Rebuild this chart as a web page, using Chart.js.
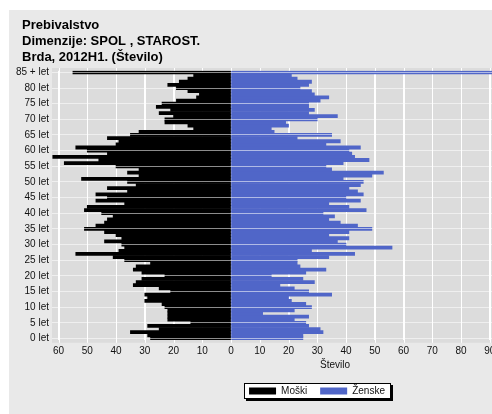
<!DOCTYPE html>
<html>
<head>
<meta charset="utf-8">
<script src="https://cdn.jsdelivr.net/npm/chart.js@4/dist/chart.umd.min.js"></script>
<style>
html,body{margin:0;padding:0;background:#ffffff;overflow:hidden;width:492px;height:414px;}
#wrap{position:absolute;left:9px;top:10px;width:614px;height:404px;}
canvas{display:block;}
</style>
</head>
<body>
<div id="wrap"><canvas id="c" width="614" height="404"></canvas></div>
<script>
// ---- data (index 0 = "0 let" ... index 85 = "85 + let") ----
const categories = ['0 let','1 let','2 let','3 let','4 let','5 let','6 let','7 let','8 let','9 let',
  '10 let','11 let','12 let','13 let','14 let','15 let','16 let','17 let','18 let','19 let',
  '20 let','21 let','22 let','23 let','24 let','25 let','26 let','27 let','28 let','29 let',
  '30 let','31 let','32 let','33 let','34 let','35 let','36 let','37 let','38 let','39 let',
  '40 let','41 let','42 let','43 let','44 let','45 let','46 let','47 let','48 let','49 let',
  '50 let','51 let','52 let','53 let','54 let','55 let','56 let','57 let','58 let','59 let',
  '60 let','61 let','62 let','63 let','64 let','65 let','66 let','67 let','68 let','69 let',
  '70 let','71 let','72 let','73 let','74 let','75 let','76 let','77 let','78 let','79 let',
  '80 let','81 let','82 let','83 let','84 let','85 + let'];

const male = [28,29,35,25,29,14,22,22,22,22,
  23,24,30,29,30,21,25,34,33,31,
  23,31,34,33,28,37,41,54,39,37,
  38,44,38,40,44,51,47,44,43,41,
  45,51,50,37,47,43,47,36,43,33,
  36,52,32,36,32,40,58,46,62,43,
  50,54,40,39,43,35,32,13,15,23,
  23,20,25,21,26,24,19,12,11,15,
  19,22,18,15,13,55];

const female = [25,25,32,31,27,26,22,27,11,22,
  28,26,21,20,35,27,22,17,29,25,
  14,26,33,24,23,23,34,43,28,56,
  40,37,41,34,41,49,44,38,34,36,
  32,47,41,34,45,40,46,44,41,45,
  46,39,49,53,35,33,39,48,43,42,
  41,45,33,38,23,35,15,14,20,19,
  30,37,27,29,27,27,31,34,29,28,
  24,27,28,23,21,110];

const seriesNames = ['Moški', 'Ženske'];
const xTickValues = [-60,-50,-40,-30,-20,-10,0,10,20,30,40,50,60,70,80,90,100,110,120,130];
const titleLines = ['Prebivalstvo', 'Dimenzije: SPOL , STAROST.', 'Brda, 2012H1. (Število)'];
const axisTitle = 'Število';

Chart.defaults.font.family = "'Liberation Sans', Arial, sans-serif";
Chart.defaults.color = '#000';

const bgPlugin = {
  id: 'bgPlugin',
  afterLayout(chart) {
    if (chart.titleBlock) { chart.titleBlock.left += 6; chart.titleBlock.right += 6; }
  },
  beforeDraw(chart) {
    const ctx = chart.ctx, a = chart.chartArea, x = chart.scales.x;
    ctx.save();
    ctx.fillStyle = '#e9e9e9';
    ctx.fillRect(0, 0, chart.width, chart.height);
    const ext = 2.8;
    ctx.fillStyle = '#dcdcdc';
    ctx.fillRect(a.left, a.top - ext, a.right - a.left, a.bottom - a.top + 2 * ext);
    ctx.strokeStyle = '#ffffff';
    ctx.lineWidth = 1;
    x.ticks.forEach(t => {
      const px = Math.round(x.getPixelForValue(t.value)) + 0.5;
      ctx.beginPath(); ctx.moveTo(px, a.top - ext); ctx.lineTo(px, a.bottom + ext); ctx.stroke();
    });
    const lg = chart.legend;
    if (lg && lg.legendHitBoxes && lg.legendHitBoxes.length) {
      const hb = lg.legendHitBoxes;
      const l = Math.min(...hb.map(h => h.left));
      const r = Math.max(...hb.map(h => h.left + h.width));
      const t = Math.min(...hb.map(h => h.top));
      const b = Math.max(...hb.map(h => h.top + h.height));
      const bx = Math.round(l - 5), by = Math.round(t - 3), bw = Math.round(r - l + 11), bh = Math.round(b - t + 6);
      ctx.fillStyle = '#000';
      ctx.fillRect(bx + 2, by + 2, bw, bh);
      ctx.fillStyle = '#fff';
      ctx.fillRect(bx, by, bw, bh);
      ctx.strokeStyle = '#000';
      ctx.strokeRect(bx + 0.5, by + 0.5, bw - 1, bh - 1);
    }
    ctx.restore();
  }
};

new Chart(document.getElementById('c'), {
  type: 'bar',
  data: {
    labels: categories,
    datasets: [
      { label: seriesNames[0], data: male.map(v => -v), backgroundColor: '#000000', borderWidth: 0,
        barPercentage: 1, categoryPercentage: 1 },
      { label: seriesNames[1], data: female, backgroundColor: '#5066c8', borderWidth: 0,
        barPercentage: 1, categoryPercentage: 1 }
    ]
  },
  options: {
    indexAxis: 'y',
    responsive: false,
    animation: false,
    devicePixelRatio: 1,
    layout: { padding: { left: 7, right: 5, top: 0, bottom: 8 } },
    scales: {
      x: {
        type: 'linear', stacked: true, min: -62.27, max: 134.6,
        afterBuildTicks: s => { s.ticks = xTickValues.map(v => ({ value: v })); },
        ticks: { callback: v => String(Math.abs(v)), font: { size: 10 }, color: '#111', padding: 5,
                 maxRotation: 0, autoSkip: false },
        grid: { color: '#ffffff', drawTicks: false, z: 0 },
        border: { display: false },
        title: { display: true, text: axisTitle, font: { size: 10 }, color: '#111', padding: { top: -3, bottom: 2 } }
      },
      y: {
        stacked: true, reverse: true,
        afterFit: s => { s.width = 36; },
        ticks: { autoSkip: false, font: { size: 10 }, color: '#111', padding: 3,
                 callback: function (v, i) { return i % 5 === 0 ? this.getLabelForValue(v) : ''; } },
        grid: { offset: false, z: 1, drawTicks: false,
                color: c => (c.index % 5 === 0 ? 'rgba(255,255,255,0.55)' : 'rgba(0,0,0,0)') },
        border: { display: false }
      }
    },
    plugins: {
      legend: { position: 'bottom',
        labels: { boxWidth: 27, boxHeight: 7, padding: 13, font: { size: 10 }, color: '#111' } },
      title: { display: true, align: 'start', text: titleLines, color: '#000',
               font: { size: 13, weight: 'bold' }, padding: { top: 8, bottom: 6 } },
      tooltip: { enabled: false }
    }
  },
  plugins: [bgPlugin]
});
</script>
</body>
</html>
